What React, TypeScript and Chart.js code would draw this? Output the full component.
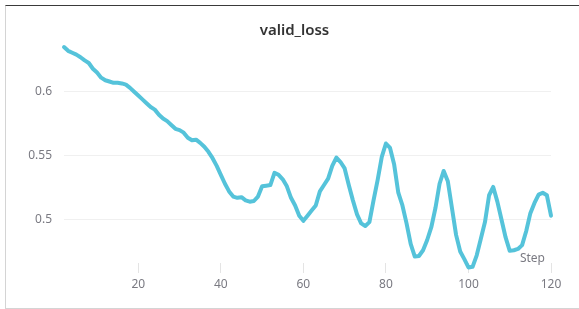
import React, { useEffect, useRef } from "react";
import { Chart, registerables } from "chart.js";

Chart.register(...registerables);

const steps: number[] = [];
for (let s = 2; s <= 120; s++) steps.push(s);

const validLoss: number[] = [
  0.635, 0.632, 0.6305, 0.629, 0.627, 0.6245, 0.6225, 0.618, 0.615, 0.611,
  0.609, 0.608, 0.607, 0.607, 0.6065, 0.6055, 0.603, 0.6, 0.597, 0.594,
  0.591, 0.588, 0.586, 0.582, 0.579, 0.577, 0.574, 0.571, 0.57, 0.568,
  0.564, 0.562, 0.5625, 0.56, 0.557, 0.553, 0.548, 0.542, 0.535, 0.528,
  0.522, 0.518, 0.517, 0.5175, 0.515, 0.514, 0.5145, 0.518, 0.526, 0.5265,
  0.527, 0.5365, 0.535, 0.5315, 0.526, 0.517, 0.511, 0.503, 0.499, 0.503,
  0.507, 0.511, 0.522, 0.527, 0.532, 0.542, 0.5485, 0.545, 0.54, 0.527,
  0.515, 0.504, 0.497, 0.495, 0.498, 0.515, 0.531, 0.549, 0.5595, 0.556,
  0.543, 0.521, 0.511, 0.497, 0.481, 0.471, 0.4715, 0.476, 0.484, 0.494,
  0.509, 0.528, 0.538, 0.53, 0.509, 0.488, 0.475, 0.469, 0.4625, 0.463,
  0.472, 0.485, 0.498, 0.519, 0.5255, 0.514, 0.5, 0.486, 0.4755, 0.476,
  0.477, 0.48, 0.491, 0.505, 0.513, 0.5195, 0.521, 0.519, 0.503,
];

const xTicks: number[] = [20, 40, 60, 80, 100, 120];
const yTicks: number[] = [0.5, 0.55, 0.6];

const chartTitle = "valid_loss";
const xAxisLabel = "Step";

export default function App() {
  const canvasRef = useRef<HTMLCanvasElement | null>(null);

  useEffect(() => {
    if (!canvasRef.current) return;
    const textPlugin = {
      id: "panelText",
      afterDraw(chart: any) {
        const ctx = chart.ctx;
        ctx.save();
        ctx.fillStyle = "#333333";
        ctx.font = '600 15px "Noto Sans"';
        ctx.textAlign = "center";
        ctx.textBaseline = "alphabetic";
        ctx.fillText(chartTitle, 294.5, 34.5);
        ctx.fillStyle = "#7a7a82";
        ctx.font = '12px "Noto Sans"';
        ctx.textAlign = "right";
        ctx.fillText(xAxisLabel, 545, 261.5);
        ctx.restore();
      },
    };
    const chart = new Chart(canvasRef.current, {
      type: "line",
      data: {
        datasets: [
          {
            label: chartTitle,
            data: steps.map((s, i) => ({ x: s, y: validLoss[i] })),
            borderColor: "rgb(85,195,218)",
            borderWidth: 4,
            pointRadius: 0,
            tension: 0,
            fill: false,
            clip: false as any,
            borderJoinStyle: "round",
            borderCapStyle: "round",
          },
        ],
      },
      options: {
        animation: false,
        responsive: false,
        devicePixelRatio: 1,
        layout: { padding: { top: 47, left: 10, right: 28, bottom: 0 } },
        plugins: {
          legend: { display: false },
          title: { display: false },
          tooltip: { enabled: false },
        },
        scales: {
          x: {
            type: "linear",
            min: 2,
            max: 120,
            afterBuildTicks: (scale: any) => {
              scale.ticks = xTicks.map((v) => ({ value: v }));
            },
            afterFit: (scale: any) => {
              scale.height = 46;
            },
            grid: {
              drawOnChartArea: false,
              drawTicks: true,
              tickLength: 10,
              color: "#e4e4e4",
            },
            border: { display: false },
            ticks: {
              padding: 4,
              color: "#7a7a82",
              font: { family: "Noto Sans", size: 12 },
              maxRotation: 0,
              callback: (v: any) => String(v),
            },
          },
          y: {
            type: "linear",
            min: 0.466,
            max: 0.635,
            afterBuildTicks: (scale: any) => {
              scale.ticks = yTicks.map((v) => ({ value: v }));
            },
            afterFit: (scale: any) => {
              scale.width = 54;
            },
            grid: {
              drawTicks: false,
              color: "#f0f0f0",
            },
            border: { display: false },
            ticks: {
              padding: 12,
              color: "#7a7a82",
              font: { family: "Noto Sans", size: 12 },
              callback: (v: any) => String(v),
            },
          },
        },
      },
      plugins: [textPlugin],
    });
    return () => chart.destroy();
  }, []);

  return (
    <div
      style={{
        position: "fixed",
        left: 0,
        top: 0,
        width: 579,
        height: 309,
        background: "#ffffff",
      }}
    >
      <div
        style={{
          position: "absolute",
          left: 5,
          top: 5,
          width: 574,
          height: 302,
          borderTop: "1px solid #3a3a3a",
          borderLeft: "1px solid #d4d4d4",
          borderBottom: "1px solid #d4d4d4",
        }}
      />
      <canvas
        ref={canvasRef}
        width={579}
        height={309}
        style={{ position: "absolute", left: 0, top: 0, width: 579, height: 309 }}
      />
    </div>
  );
}
